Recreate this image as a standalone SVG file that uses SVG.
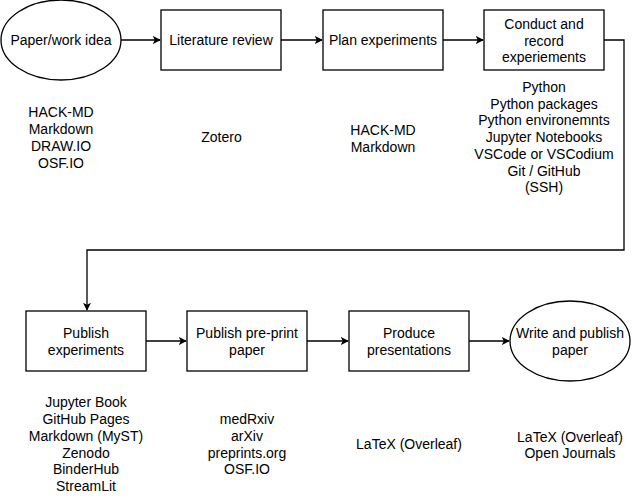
<svg xmlns="http://www.w3.org/2000/svg" width="636" height="500" viewBox="0 0 636 500">
<style>
.s{fill:#fff;stroke:#000;stroke-width:1.3}
.c{fill:none;stroke:#000;stroke-width:1.3}
text{font-family:"Liberation Sans",Arial,sans-serif;font-size:14px;fill:#000;text-anchor:middle}
</style>
<defs>
<marker id="a" viewBox="0 0 10 10" refX="9" refY="5" markerWidth="8" markerHeight="8" markerUnits="userSpaceOnUse" orient="auto">
<path d="M0,0 L10,5 L0,10 L2.5,5 Z" fill="#000"/>
</marker>
</defs>
<rect width="636" height="500" fill="#fff"/>
<g id="connectors">
<path class="c" d="M121,40 H160" marker-end="url(#a)"/>
<path class="c" d="M281,40 H322" marker-end="url(#a)"/>
<path class="c" d="M443,40 H483" marker-end="url(#a)"/>
<path class="c" d="M604,40 H624 V250 H87 V310" marker-end="url(#a)"/>
<path class="c" d="M146,341 H186" marker-end="url(#a)"/>
<path class="c" d="M307,341 H348" marker-end="url(#a)"/>
<path class="c" d="M469,341 H509" marker-end="url(#a)"/>
</g>
<g id="n1"><ellipse class="s" cx="61" cy="40" rx="60" ry="40"/><text x="61" y="45">Paper/work idea</text></g>
<g id="n2"><rect class="s" x="161" y="10" width="120" height="60"/><text x="221" y="45">Literature review</text></g>
<g id="n3"><rect class="s" x="323" y="10" width="120" height="60"/><text x="383" y="45">Plan experiments</text></g>
<g id="n4"><rect class="s" x="484" y="10" width="120" height="60"/><text x="544" y="28.5">Conduct and</text><text x="544" y="45.5">record</text><text x="544" y="62.3">experiements</text></g>
<g id="n5"><rect class="s" x="26" y="311" width="120" height="60"/><text x="86" y="338">Publish</text><text x="86" y="355">experiments</text></g>
<g id="n6"><rect class="s" x="187" y="311" width="120" height="60"/><text x="247" y="338">Publish pre-print</text><text x="247" y="355">paper</text></g>
<g id="n7"><rect class="s" x="349" y="311" width="120" height="60"/><text x="409" y="338">Produce</text><text x="409" y="355">presentations</text></g>
<g id="n8"><ellipse class="s" cx="570" cy="341" rx="60" ry="40"/><text x="570" y="338">Write and publish</text><text x="570" y="355">paper</text></g>
<g id="t1"><text x="61" y="117">HACK-MD</text><text x="61" y="134">Markdown</text><text x="61" y="151">DRAW.IO</text><text x="61" y="167.5">OSF.IO</text></g>
<g id="t2"><text x="221.5" y="142">Zotero</text></g>
<g id="t3"><text x="383" y="135">HACK-MD</text><text x="383" y="152">Markdown</text></g>
<g id="t4"><text x="544" y="92">Python</text><text x="544" y="109">Python packages</text><text x="544" y="125">Python environemnts</text><text x="544" y="142">Jupyter Notebooks</text><text x="544" y="159">VSCode or VSCodium</text><text x="544" y="175.7">Git / GitHub</text><text x="544" y="192.3">(SSH)</text></g>
<g id="t5"><text x="86" y="406.7">Jupyter Book</text><text x="86" y="424">GitHub Pages</text><text x="86" y="441">Markdown (MyST)</text><text x="86" y="457.7">Zenodo</text><text x="86" y="474.3">BinderHub</text><text x="86" y="491">StreamLit</text></g>
<g id="t6"><text x="247" y="424">medRxiv</text><text x="247" y="441">arXiv</text><text x="247" y="458">preprints.org</text><text x="247" y="474">OSF.IO</text></g>
<g id="t7"><text x="409" y="449">LaTeX (Overleaf)</text></g>
<g id="t8"><text x="570" y="441.7">LaTeX (Overleaf)</text><text x="570" y="458.3">Open Journals</text></g>
</svg>
